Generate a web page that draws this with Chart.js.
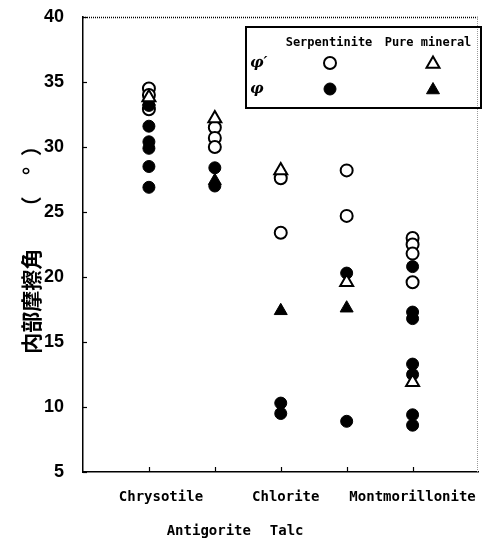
<!DOCTYPE html>
<html>
<head>
<meta charset="utf-8">
<script src="https://cdn.jsdelivr.net/npm/chart.js@4.4.1/dist/chart.umd.min.js"></script>
<style>
  html, body { margin: 0; padding: 0; background: #fff; }
  #wrap { width: 488px; height: 539px; position: relative; }
</style>
</head>
<body>
<div id="wrap"><canvas id="c"></canvas></div>
<script>
// Minerals along the x axis
const categories = ['Chrysotile', 'Antigorite', 'Chlorite', 'Talc', 'Montmorillonite'];

// Serpentinite samples (one list per mineral)
const serpPhiPrime = [
  [34.5, 34.0, 32.9],
  [31.5, 30.7, 30.0],
  [27.6, 23.4],
  [28.2, 24.7],
  [23.0, 22.5, 21.8, 19.6]
];
const serpPhi = [
  [33.2, 31.6, 30.4, 29.9, 28.5, 26.9],
  [28.4, 27.0],
  [10.3, 9.5],
  [20.3, 8.9],
  [20.8, 17.3, 16.8, 13.3, 12.5, 9.4, 8.6]
];

// Pure mineral samples
const purePhiPrime = [33.8, 32.2, 28.2, 19.6, 11.9];
const purePhi = [33.5, 27.4, 17.4, 17.6, null];

const yTicks = [5, 10, 15, 20, 25, 30, 35, 40];

function groupPoints(groups) {
  const out = [];
  groups.forEach((vals, i) => vals.forEach(v => out.push({ x: i + 1, y: v })));
  return out;
}
function singlePoints(vals) {
  const out = [];
  vals.forEach((v, i) => { if (v !== null) out.push({ x: i + 1, y: v }); });
  return out;
}

const MONO = '"DejaVu Sans Mono", "Liberation Mono", monospace';

// Frame, inward ticks, staggered category labels and the boxed key
const decorations = {
  id: 'decorations',
  afterDraw(chart) {
    const { ctx, chartArea: a, scales: { x, y } } = chart;
    const seg = (x1, y1, x2, y2) => { ctx.beginPath(); ctx.moveTo(x1, y1); ctx.lineTo(x2, y2); ctx.stroke(); };
    ctx.save();

    // dotted top edge, faint right edge
    ctx.strokeStyle = '#000';
    ctx.lineWidth = 1.5;
    ctx.setLineDash([1, 1]);
    seg(a.left, a.top + 0.5, a.right, a.top + 0.5);
    ctx.strokeStyle = '#9a9a9a';
    ctx.lineWidth = 1;
    seg(a.right - 1, a.top, a.right - 1, a.bottom);

    // inward tick marks
    ctx.setLineDash([]);
    ctx.strokeStyle = '#000';
    ctx.lineWidth = 1.2;
    yTicks.forEach(v => { const py = Math.round(y.getPixelForValue(v)) + 0.5; seg(a.left, py, a.left + 4, py); });
    categories.forEach((c, i) => { const px = Math.round(x.getPixelForValue(i + 1)) + 0.5; seg(px, a.bottom, px, a.bottom - 5); });

    // category names, alternating rows
    ctx.fillStyle = '#000';
    ctx.font = 'bold 14px ' + MONO;
    ctx.textAlign = 'center';
    ctx.textBaseline = 'middle';
    const nudge = [12, -6, 5, -60, 0];
    categories.forEach((c, i) => {
      const px = x.getPixelForValue(i + 1) + nudge[i];
      const py = a.bottom + (i % 2 === 0 ? 25 : 59);
      ctx.fillText(c, px, py);
    });

    // key box
    const bx = 246, by = 27, bw = 235, bh = 81;
    ctx.lineWidth = 2;
    ctx.strokeRect(bx, by, bw, bh);
    ctx.font = 'bold 12px ' + MONO;
    ctx.fillText('Serpentinite', 329, 43);
    ctx.fillText('Pure mineral', 428, 43);
    ctx.font = 'italic bold 15px "DejaVu Serif", serif';
    ctx.textAlign = 'left';
    ctx.fillText('\u03C6\u2032', 250, 63);
    ctx.fillText('\u03C6', 250, 89);

    const ds = chart.data.datasets;
    const mark = (d, px, py) => {
      ctx.beginPath();
      if (d.pointStyle === 'triangle') {
        const r = d.pointRadius;
        ctx.moveTo(px, py - r);
        ctx.lineTo(px + r * Math.sin(Math.PI / 3), py + r * 0.5);
        ctx.lineTo(px - r * Math.sin(Math.PI / 3), py + r * 0.5);
        ctx.closePath();
      } else {
        ctx.arc(px, py, d.pointRadius, 0, Math.PI * 2);
      }
      ctx.fillStyle = d.pointBackgroundColor;
      ctx.fill();
      ctx.lineWidth = d.pointBorderWidth;
      ctx.strokeStyle = d.pointBorderColor;
      ctx.stroke();
    };
    mark(ds[2], 330, 63);
    mark(ds[1], 330, 89);
    mark(ds[0], 433, 64);
    mark(ds[3], 433, 90);
    ctx.restore();
  }
};

const openStyle = { pointBackgroundColor: '#fff', pointBorderColor: '#000', pointBorderWidth: 2 };
const fillStyle = { pointBackgroundColor: '#000', pointBorderColor: '#000', pointBorderWidth: 1 };

new Chart(document.getElementById('c'), {
  type: 'scatter',
  data: {
    datasets: [
      Object.assign({ label: "Pure mineral \u03C6'", data: singlePoints(purePhiPrime), pointStyle: 'triangle', pointRadius: 7.5, order: 0 }, openStyle),
      Object.assign({ label: 'Serpentinite \u03C6', data: groupPoints(serpPhi), pointStyle: 'circle', pointRadius: 6, order: 1 }, fillStyle),
      Object.assign({ label: "Serpentinite \u03C6'", data: groupPoints(serpPhiPrime), pointStyle: 'circle', pointRadius: 6, order: 2 }, openStyle),
      Object.assign({ label: 'Pure mineral \u03C6', data: singlePoints(purePhi), pointStyle: 'triangle', pointRadius: 7.5, order: 3 }, fillStyle)
    ]
  },
  options: {
    responsive: true,
    maintainAspectRatio: false,
    animation: false,
    layout: { padding: { top: 17, right: 1, left: 0, bottom: 0 } },
    plugins: { legend: { display: false }, tooltip: { enabled: false } },
    scales: {
      x: {
        type: 'linear',
        min: 0,
        max: 6,
        ticks: { display: false },
        grid: { display: true, drawOnChartArea: false, drawTicks: false },
        border: { display: true, color: '#000', width: 1.5, dash: [1, 1] },
        afterFit(scale) { scale.height = 67; }
      },
      y: {
        min: 5,
        max: 40,
        afterBuildTicks(scale) { scale.ticks = yTicks.map(v => ({ value: v })); },
        ticks: {
          color: '#000',
          padding: 19,
          font: { family: '"Liberation Sans", Arial, sans-serif', size: 18, weight: 'bold' }
        },
        grid: { display: true, drawOnChartArea: false, drawTicks: false },
        border: { display: true, color: '#000', width: 1.5 },
        title: {
          display: true,
          text: '\u5185\u90E8\u6469\u64E6\u89D2\u3000\u2002\uFF08\u3000\u00B0\u2002\uFF09',
          color: '#000',
          font: { family: '"Noto Sans CJK JP", sans-serif', size: 21, weight: 'bold' },
          padding: { top: 18, bottom: 0 }
        },
        afterFit(scale) {
          scale.width = 83;
          scale.paddingTop = 0;
          scale.paddingBottom = 0;
        }
      }
    }
  },
  plugins: [decorations]
});
</script>
</body>
</html>
